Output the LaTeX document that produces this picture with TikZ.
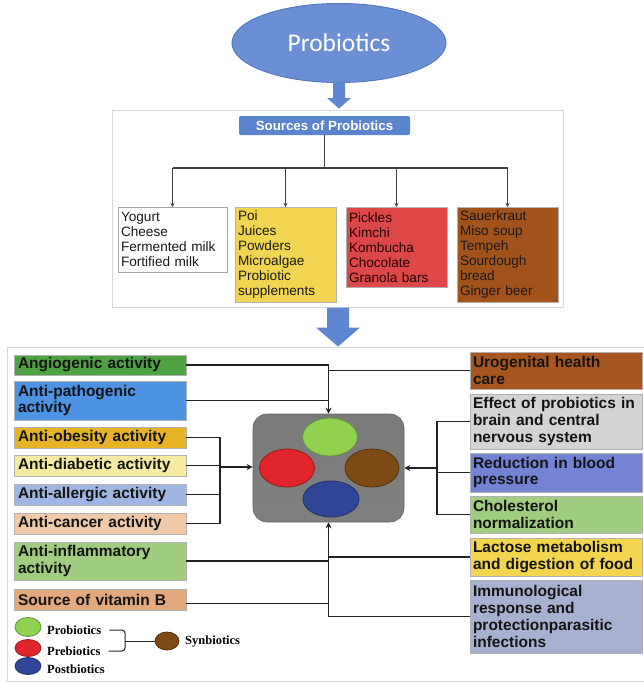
\documentclass[tikz,border=0pt]{standalone}
\usepackage{fontspec}
\setmainfont{Liberation Sans}
\newfontfamily\carlitofont{Carlito}
\newfontfamily\legendfont{Liberation Serif}
\usetikzlibrary{shapes.geometric,arrows.meta,calc}
\definecolor{ellblue}{HTML}{6B8FD4}
\definecolor{ellborder}{HTML}{5679C0}
\definecolor{srcblue}{HTML}{5B84CF}
\definecolor{arrblue}{HTML}{5F86D0}
\definecolor{cyellow}{HTML}{F1D550}
\definecolor{cred}{HTML}{DD4747}
\definecolor{cbrown}{HTML}{A2531B}
\definecolor{cangio}{HTML}{4FA243}
\definecolor{cpatho}{HTML}{4C93E4}
\definecolor{cobes}{HTML}{E6B425}
\definecolor{cdiab}{HTML}{F6EBA2}
\definecolor{callerg}{HTML}{9FB6E2}
\definecolor{ccancer}{HTML}{F0C9A9}
\definecolor{cinflam}{HTML}{A0CD7F}
\definecolor{cvitb}{HTML}{E2A97D}
\definecolor{curo}{HTML}{A8561F}
\definecolor{cbrain}{HTML}{D3D3D3}
\definecolor{cbp}{HTML}{7384D5}
\definecolor{cchol}{HTML}{A0CD7F}
\definecolor{clact}{HTML}{F2D44F}
\definecolor{cimmu}{HTML}{A8B0D2}
\definecolor{pgreen}{HTML}{90D150}
\definecolor{pred}{HTML}{E0252C}
\definecolor{pbrown}{HTML}{7B4A15}
\definecolor{pblue}{HTML}{2F4597}
\definecolor{linec}{HTML}{222222}
\definecolor{framec}{HTML}{D5DAE0}
\tikzset{
  box/.style={rectangle, draw=black!30, line width=0.7pt, inner ysep=0pt, align=left},
  lbox/.style={box, text width=164pt, inner xsep=4pt, font=\fontsize{15.5}{16.7}\selectfont\bfseries, text=black!92},
  rbox/.style={box, text width=166pt, inner xsep=3pt, font=\fontsize{15.5}{16.7}\selectfont\bfseries, text=black!92},
  sbox/.style={box, anchor=north, inner xsep=3pt, font=\fontsize{13.6}{15}\selectfont, text=black!90},
  conn/.style={draw=linec, line width=1.5pt},
  arr/.style={conn, -{Stealth[length=6pt,width=6pt]}},
  sconn/.style={draw=black!75, line width=1.1pt},
  sarr/.style={sconn, -{Stealth[length=4pt,width=4pt]}},
  bub/.style={ellipse, line width=0.8pt, inner sep=0pt},
  frame/.style={rectangle, draw=framec, line width=1pt, inner sep=0pt},
  lgtxt/.style={anchor=west, inner xsep=2pt, font=\legendfont\bfseries\fontsize{12.5}{14}\selectfont}
}
\begin{document}
\begin{tikzpicture}[x=1pt,y=-1pt]
\useasboundingbox (0,0) rectangle (643,683);
\fill[white] (0,0) rectangle (643,683);

% top ellipse
\node[bub, fill=ellblue, draw=ellborder, line width=1pt, minimum width=214pt, minimum height=79pt,
  text=white, font=\carlitofont\fontsize{25.5}{28}\selectfont] (top) at (339,43) {Probiotics};

% sources frame
\node[frame, minimum width=451pt, minimum height=197pt] (srcframe) at (337.5,208.5) {};
\node[rectangle, fill=srcblue, rounded corners=2pt, minimum width=171pt, minimum height=19pt, inner sep=0pt,
  text=white, font=\bfseries\fontsize{13.3}{15}\selectfont] (src) at (324.5,125.5) {Sources of Probiotics};

% block arrow 1
\fill[arrblue] ($(top.south)+(-6,-1)$) -- ($(top.south)+(6,-1)$) -- ($(top.south)+(6,15)$)
  -- ($(top.south)+(12,15)$) -- ($(top.south |- srcframe.north)+(0,-1)$)
  -- ($(top.south)+(-12,15)$) -- ($(top.south)+(-6,15)$) -- cycle;

% source boxes
\node[sbox, fill=white, draw=black!35, text width=103pt, minimum height=65pt] (s1) at (172.5,207)
  {Yogurt\\Cheese\\Fermented milk\\Fortified milk};
\node[sbox, fill=cyellow, text width=95pt, minimum height=95pt] (s2) at (285.5,207)
  {Poi\\Juices\\Powders\\Microalgae\\Probiotic\\supplements};
\node[sbox, fill=cred, text width=95pt, minimum height=80pt, text=black!85!red] (s3) at (396.5,207)
  {Pickles\\Kimchi\\Kombucha\\Chocolate\\Granola bars};
\node[sbox, fill=cbrown, text width=95pt, minimum height=95pt, text=black!90] (s4) at (507.5,207)
  {Sauerkraut\\Miso soup\\Tempeh\\Sourdough\\bread\\Ginger beer};

\coordinate (br) at (326,168);
\draw[sconn] (src.south) -- (src.south |- br);
\draw[sconn] (s1.north |- br) -- (s4.north |- br);
\foreach \b in {s1,s2,s3,s4} \draw[sarr] (\b.north |- br) -- (\b.north);

% lower frame
\node[frame, minimum width=643pt, minimum height=334pt] (lowframe) at (328.5,514) {};

% block arrow 2
\coordinate (a2) at ($(srcframe.south)+(0.5,0)$);
\fill[arrblue] ($(a2)+(-11,0)$) -- ($(a2)+(11,0)$) -- ($(a2)+(11,20)$) -- ($(a2)+(22,20)$)
  -- (a2 |- lowframe.north) -- ($(a2)+(-22,20)$) -- ($(a2)+(-11,20)$) -- cycle;

% centre box
\node[rectangle, rounded corners=14pt, draw=black!60, line width=0.6pt, minimum width=151pt, minimum height=108pt,
  top color=black!52, middle color=black!36, bottom color=black!50] (core) at (328.5,468) {};
\node[bub, fill=pgreen, draw=pgreen!70!black, minimum width=55pt, minimum height=38pt] (cg) at (330,437) {};
\node[bub, fill=pred, draw=pred!70!black, minimum width=55pt, minimum height=38pt] (cr) at (287,468) {};
\node[bub, fill=pbrown, draw=pbrown!70!black, minimum width=54pt, minimum height=38pt] (cb) at (372,468) {};
\node[bub, fill=pblue, draw=pblue!70!black, minimum width=56pt, minimum height=36pt] (cbl) at (331,499) {};

% left boxes
\node[lbox, fill=cangio, minimum height=20pt] (angio) at (100,365) {Angiogenic activity};
\node[lbox, fill=cpatho, minimum height=39pt] (patho) at (100,400.5) {Anti-pathogenic\\activity};
\node[lbox, fill=cobes, minimum height=21pt] (obes) at (100,437.5) {Anti-obesity activity};
\node[lbox, fill=cdiab, minimum height=21pt] (diab) at (100,465.5) {Anti-diabetic activity};
\node[lbox, fill=callerg, minimum height=21pt] (allerg) at (100,494.5) {Anti-allergic activity};
\node[lbox, fill=ccancer, minimum height=21pt] (cancer) at (100,523.5) {Anti-cancer activity};
\node[lbox, fill=cinflam, minimum height=38pt] (inflam) at (100,561) {Anti-inflammatory\\activity};
\node[lbox, fill=cvitb, minimum height=21pt] (vitb) at (100,599.5) {Source of vitamin B};

% right boxes
\node[rbox, fill=curo, minimum height=37pt] (uro) at (556,370.5) {Urogenital health\\care};
\node[rbox, fill=cbrain, minimum height=55pt] (brain) at (556,421.5) {Effect of probiotics in\\brain and central\\nervous system};
\node[rbox, fill=cbp, minimum height=39pt] (bp) at (556,472.5) {Reduction in blood\\pressure};
\node[rbox, fill=cchol, minimum height=37pt] (chol) at (556,514.5) {Cholesterol\\normalization};
\node[rbox, fill=clact, minimum height=38pt] (lact) at (556,557) {Lactose metabolism\\and digestion of food};
\node[rbox, fill=cimmu, minimum height=73pt] (immu) at (556,616.5) {Immunological\\response and\\protectionparasitic\\infections};

% connectors top
\draw[arr] (angio.east) -| (core.north);
\draw[conn] (patho.east) -- (patho.east -| core.north);
\draw[conn] (uro.west) -- (uro.west -| core.north);
% left bracket
\coordinate (lbx) at (220,467);
\draw[conn] (obes.east) -- (obes.east -| lbx) -- (cancer.east -| lbx) -- (cancer.east);
\draw[conn] (diab.east) -- (diab.east -| lbx);
\draw[conn] (allerg.east) -- (allerg.east -| lbx);
\draw[arr] (lbx) -- (lbx -| core.west);
% right bracket
\coordinate (rbx) at (437,468);
\draw[conn] (brain.west) -- (brain.west -| rbx) -- (chol.west -| rbx) -- (chol.west);
\draw[conn] (bp.west) -- (bp.west -| rbx);
\draw[arr] (rbx) -- (rbx -| core.east);
% bottom
\draw[arr] (immu.west) -| (core.south);
\draw[conn] (lact.west) -- (lact.west -| core.south);
\draw[conn] (inflam.east) -- (inflam.east -| core.south);
\draw[conn] ([yshift=-4pt]vitb.east) -- ([yshift=-4pt]vitb.east -| core.south);

% legend
\node[bub, fill=pgreen, draw=pgreen!70!black, minimum width=26pt, minimum height=19pt] (lg1) at (28,627) {};
\node[bub, fill=pred, draw=pred!70!black, minimum width=26pt, minimum height=17pt] (lg2) at (28,648) {};
\node[bub, fill=pblue, draw=pblue!70!black, minimum width=26pt, minimum height=17pt] (lg3) at (28,666) {};
\node[lgtxt] (lt1) at (45,630) {Probiotics};
\node[lgtxt] (lt2) at (45,651) {Prebiotics};
\node[lgtxt] (lt3) at (45,669) {Postbiotics};
\node[bub, fill=pbrown, draw=pbrown!70!black, minimum width=24pt, minimum height=18pt] (lgs) at (167,641) {};
\node[lgtxt] (lts) at (183,642) {Synbiotics};
\coordinate (bk) at (125,641);
\draw[draw=black!85, line width=1pt, rounded corners=3pt] ([xshift=6pt]lt1.east) -| (bk) |- ([xshift=6pt]lt2.east);
\draw[draw=black!85, line width=1pt] (bk) -- (lgs.west);
\end{tikzpicture}
\end{document}
